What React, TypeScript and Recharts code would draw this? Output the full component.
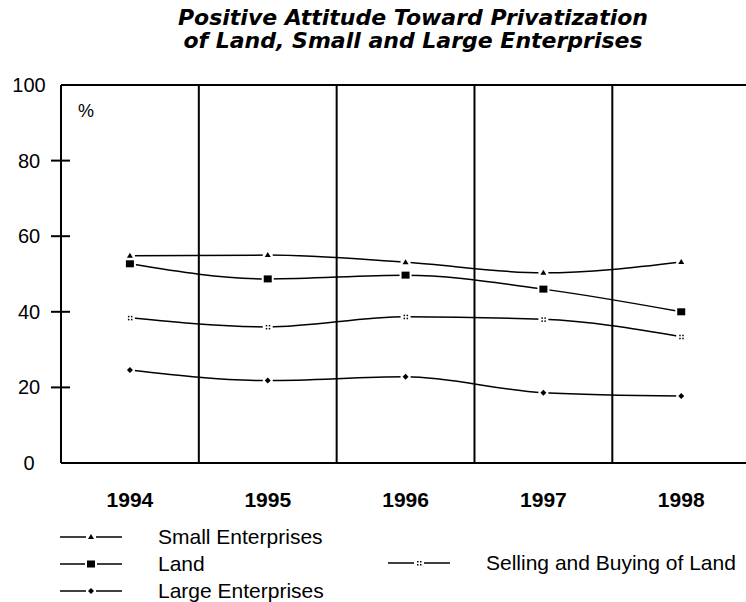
import React from 'react';
import { LineChart, Line, XAxis, YAxis, ReferenceLine } from 'recharts';

const years = [1994, 1995, 1996, 1997, 1998];
const smallEnterprises = [54.8, 55.0, 53.1, 50.3, 53.2];
const land = [52.7, 48.7, 49.7, 46.0, 40.0];
const sellingBuying = [38.4, 36.0, 38.7, 38.0, 33.4];
const largeEnterprises = [24.6, 21.8, 22.8, 18.6, 17.7];
const yTicks = [0, 20, 40, 60, 80, 100];
const dividers = [1994.5, 1995.5, 1996.5, 1997.5];
const titleLines = ['Positive Attitude Toward Privatization', 'of Land, Small and Large Enterprises'];

const data = years.map((y, i) => ({
  year: y,
  small: smallEnterprises[i],
  land: land[i],
  selling: sellingBuying[i],
  large: largeEnterprises[i],
}));

const FONT = '"Liberation Sans", Arial, sans-serif';

const TriDot = (p: any) => {
  const { cx, cy } = p;
  if (cx == null || cy == null) return null;
  return (
    <g>
      <rect x={cx - 5} y={cy - 4} width={10} height={8} fill="#fff" />
      <polygon points={`${cx},${cy - 3} ${cx - 3},${cy + 2} ${cx + 3},${cy + 2}`} fill="#000" />
    </g>
  );
};
const SquareDot = (p: any) => {
  const { cx, cy } = p;
  if (cx == null || cy == null) return null;
  return (
    <g>
      <rect x={cx - 6} y={cy - 5} width={12} height={10} fill="#fff" />
      <rect x={cx - 4} y={cy - 3.5} width={8} height={7} fill="#000" />
    </g>
  );
};
const XDot = (p: any) => {
  const { cx, cy } = p;
  if (cx == null || cy == null) return null;
  return (
    <g>
      <rect x={cx - 5} y={cy - 4} width={10} height={8} fill="#fff" />
      <rect x={cx - 2} y={cy - 2} width={1.5} height={1.5} fill="#000" />
      <rect x={cx + 1} y={cy - 2} width={1.5} height={1.5} fill="#000" />
      <rect x={cx - 2} y={cy + 1} width={1.5} height={1.5} fill="#000" />
      <rect x={cx + 1} y={cy + 1} width={1.5} height={1.5} fill="#000" />
    </g>
  );
};
const DiamondDot = (p: any) => {
  const { cx, cy } = p;
  if (cx == null || cy == null) return null;
  return (
    <g>
      <rect x={cx - 5} y={cy - 4} width={10} height={8} fill="#fff" />
      <polygon points={`${cx},${cy - 3} ${cx + 3},${cy} ${cx},${cy + 3} ${cx - 3},${cy}`} fill="#000" />
    </g>
  );
};

const YTick = (p: any) => {
  const { y, payload } = p;
  const v = payload.value;
  return (
    <g>
      {v > 0 && v < 100 ? <line x1={51} x2={70} y1={y} y2={y} stroke="#000" strokeWidth={2} /> : null}
      <text x={29} y={y + 7} textAnchor="middle" fontFamily={FONT} fontSize={20} fill="#000">
        {v}
      </text>
    </g>
  );
};

const XTick = (p: any) => {
  const { x, y, payload } = p;
  return (
    <text x={x} y={y + 44} textAnchor="middle" fontFamily={FONT} fontSize={21} fontWeight="bold" fill="#000">
      {payload.value}
    </text>
  );
};

const legendRows = [
  { label: 'Small Enterprises', Dot: TriDot, x: 60, y: 537 },
  { label: 'Land', Dot: SquareDot, x: 60, y: 564 },
  { label: 'Large Enterprises', Dot: DiamondDot, x: 60, y: 591 },
  { label: 'Selling and Buying of Land', Dot: XDot, x: 388, y: 563 },
];

export default function App() {
  return (
    <div style={{ position: 'absolute', left: 0, top: 0, width: 746, height: 602, background: '#fff', overflow: 'hidden' }}>
      {titleLines.map((t, i) => (
        <div
          key={i}
          style={{
            position: 'absolute',
            left: 0,
            width: 826,
            top: 6 + i * 23,
            textAlign: 'center',
            fontFamily: '"DejaVu Sans", sans-serif',
            fontWeight: 'bold',
            fontStyle: 'italic',
            fontSize: 22,
            lineHeight: '23px',
            color: '#000',
            whiteSpace: 'nowrap',
          }}
        >
          {t}
        </div>
      ))}
      <LineChart width={746} height={602} data={data} margin={{ top: 85, right: 0, left: 0, bottom: 109 }}>
        <XAxis
          dataKey="year"
          type="number"
          domain={[1993.5, 1998.47]}
          ticks={years}
          allowDataOverflow
          tickLine={false}
          tickSize={0}
          tickMargin={0}
          height={30}
          axisLine={{ stroke: '#000', strokeWidth: 2 }}
          tick={<XTick />}
        />
        <YAxis
          domain={[0, 100]}
          ticks={yTicks}
          width={61}
          tickLine={false}
          tickSize={0}
          tickMargin={0}
          axisLine={{ stroke: '#000', strokeWidth: 2 }}
          tick={<YTick />}
        />
        {dividers.map((d) => (
          <ReferenceLine key={d} x={d} stroke="#000" strokeWidth={2} />
        ))}
        <ReferenceLine y={100} stroke="#000" strokeWidth={2} />
        <Line type="monotone" dataKey="small" stroke="#000" strokeWidth={1.5} dot={<TriDot />} isAnimationActive={false} />
        <Line type="monotone" dataKey="land" stroke="#000" strokeWidth={1.5} dot={<SquareDot />} isAnimationActive={false} />
        <Line type="monotone" dataKey="selling" stroke="#000" strokeWidth={1.5} dot={<XDot />} isAnimationActive={false} />
        <Line type="monotone" dataKey="large" stroke="#000" strokeWidth={1.5} dot={<DiamondDot />} isAnimationActive={false} />
        <text x={78} y={117} fontFamily={FONT} fontSize={18} fill="#000">%</text>
        {legendRows.map((r) => (
          <g key={r.label}>
            <line x1={r.x} x2={r.x + 62} y1={r.y} y2={r.y} stroke="#000" strokeWidth={1.5} />
            <r.Dot cx={r.x + 31} cy={r.y} />
            <text x={r.x === 60 ? 158 : 486} y={r.y + 7} fontFamily={FONT} fontSize={21} fill="#000">
              {r.label}
            </text>
          </g>
        ))}
      </LineChart>
    </div>
  );
}
